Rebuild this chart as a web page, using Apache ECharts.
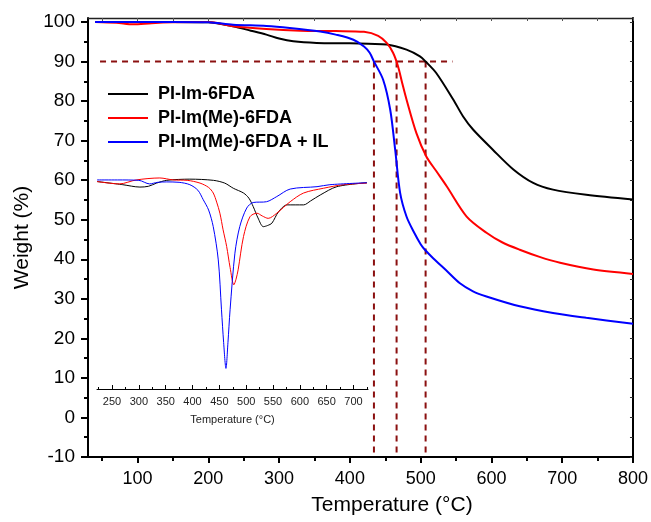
<!DOCTYPE html>
<html>
<head>
<meta charset="utf-8">
<script src="https://cdn.jsdelivr.net/npm/echarts@6/dist/echarts.min.js"></script>
<style>html,body{margin:0;padding:0;background:#fff}#c{width:651px;height:522px}</style>
</head>
<body>
<div id="c"></div>
<script>
// ---- data ----
const seriesNames = ['PI-Im-6FDA', 'PI-Im(Me)-6FDA', 'PI-Im(Me)-6FDA + IL'];

// TGA main curves: temperature (°C) and weight (%)
const tgaBlackT = [40,100,150,200,235,260,282,300,320,353,400,452,480,499,507,522,546,560,574,602,631,659,687,734,800];
const tgaBlackW = [100,100,100,99.9,98.9,97.8,96.8,95.8,95.1,94.7,94.6,94.3,93,91.3,90,87.1,80.4,76.1,72.8,67.7,62.7,59.3,57.6,56.3,55.1];

const tgaRedT = [40,70,94,120,150,200,235,282,330,380,420,440,452,461,468,474,480,494,508,522,537,565,593,615,640,668,697,744,800];
const tgaRedW = [100,99.8,99.4,99.7,99.9,100,98.9,98.2,97.8,97.7,97.5,96.5,94.7,92.2,88.8,84.5,80.4,71.9,66,62.3,58.4,50.8,46.7,44.3,42.4,40.6,39.1,37.4,36.3];

const tgaBlueT = [40,150,200,235,282,315,358,380,405,420,428,434,447,457,464,471,480,490,500,506,518,536,555,574,593,640,687,734,800];
const tgaBlueW = [100,100,99.9,99.3,99,98.5,97.6,96.8,95.5,93.8,92.2,90,85.4,77.8,67.7,56.8,50.8,47,43.8,42.4,40.2,37.2,34,31.9,30.6,28.1,26.4,25.2,23.7];

// DTG inset curves (arbitrary units)
const dtgBlackT = [222,270,302,318,333,352,395,439,460,476,495,505,513,522,532,540,548,560,576,607,620,638,669,725];
const dtgBlackV = [59.7,58.9,58.3,58.5,59.3,60,60.3,60,59.3,58,56.8,55.5,53.4,50.5,48.3,48.6,49.2,52,53.8,53.8,54.8,56.3,58.4,59.4];

const dtgRedT = [222,264,295,339,364,390,414,430,438.6,445,451,457,463.6,470,477,481,485,495,507,520,530,541,557,582,607,644,681,725];
const dtgRedV = [59.7,59.1,60.1,60.6,60.1,60,59.3,58.2,56.8,54.5,51.7,47.5,43.3,38,33.6,35,37.4,45.8,50.8,51.7,51,50.4,51.7,54.6,56.8,58,58.9,59.3];

const dtgBlueT = [222,260,300,320,335,352,375,395,410,420,430,438.6,448,454,458,462.3,466,470,479,488,501,513,538,557,582,632,656,725];
const dtgBlueV = [60.1,60.1,60,59.1,59.5,59.6,59.5,58.9,57.5,55.1,52.5,48.3,39.9,27.3,19,12.5,19,27.3,41.6,48.3,53,54.4,54.6,55.9,57.8,58.4,58.9,59.4];

// T10% guide lines
const level10 = 90;
const t10 = [434, 466, 507];
const guideStart = 47, guideEnd = 545, guideBottom = -10;

// tick values
const xTicks = [100,200,300,400,500,600,700,800];
const xMinor = [50,150,250,350,450,550,650,750];
const xTop = [50,100,150,200,250,300,350,400,450,500,550,600,650,700,750,800];
const yTicks = [-10,0,10,20,30,40,50,60,70,80,90,100];
const yMinor = [-5,5,15,25,35,45,55,65,75,85,95];
const yRight = [-10,-5,0,5,10,15,20,25,30,35,40,45,50,55,60,65,70,75,80,85,90,95,100];
const insetTicks = [250,300,350,400,450,500,550,600,650,700];
const insetMinor = [225,275,325,375,425,475,525,575,625,675,725];

// ---- chart ----
const FONT = 'Liberation Sans, Arial, sans-serif';
const zip = (a, b) => a.map((v, i) => [v, b[i]]);
const colors = ['#000000', '#ff0000', '#0000ff'];
const guideColor = '#8b1010';

const chart = echarts.init(document.getElementById('c'), null, {renderer: 'canvas'});

const hiddenAxis = {axisLine: {show: false, onZero: false}, axisLabel: {show: false}, splitLine: {show: false}};

const series = [];
// guide lines
series.push({
  type: 'line', xAxisIndex: 0, yAxisIndex: 0, symbol: 'none', silent: true, z: 1,
  data: [[guideStart, level10], [guideEnd, level10]],
  lineStyle: {color: guideColor, width: 2, type: [6, 5]}
});
t10.forEach(t => series.push({
  type: 'line', xAxisIndex: 0, yAxisIndex: 0, symbol: 'none', silent: true, z: 1,
  data: [[t, level10], [t, guideBottom]],
  lineStyle: {color: guideColor, width: 2, type: [6, 5]}
}));
// TGA
[[tgaBlackT, tgaBlackW], [tgaRedT, tgaRedW], [tgaBlueT, tgaBlueW]].forEach((d, i) => series.push({
  name: seriesNames[i], type: 'line', xAxisIndex: 0, yAxisIndex: 0, symbol: 'none', z: 3,
  smooth: 0.3,
  data: zip(d[0], d[1]),
  lineStyle: {color: colors[i], width: 2}, itemStyle: {color: colors[i]}
}));
// DTG inset
[[dtgBlackT, dtgBlackV], [dtgRedT, dtgRedV], [dtgBlueT, dtgBlueV]].forEach((d, i) => series.push({
  name: seriesNames[i] + ' DTG', type: 'line', xAxisIndex: 3, yAxisIndex: 3, symbol: 'none', z: 2,
  smooth: 0.3,
  data: zip(d[0], d[1]),
  lineStyle: {color: colors[i], width: 1}, itemStyle: {color: colors[i]}
}));

chart.setOption({
  backgroundColor: '#fff',
  animation: false,
  textStyle: {fontFamily: FONT},
  grid: [
    {left: 88, right: 18, top: 18, bottom: 65},
    {left: 97, right: 283, top: 18, bottom: 133}
  ],
  legend: {
    data: seriesNames, orient: 'vertical', left: 108, top: 84, padding: 0,
    icon: 'rect', itemWidth: 40, itemHeight: 2, itemGap: 4,
    textStyle: {fontFamily: FONT, fontSize: 18, fontWeight: 'bold', color: '#000', lineHeight: 20, padding: [0, 0, 0, 5]}
  },
  xAxis: [
    {type: 'value', gridIndex: 0, min: 30, max: 800, position: 'bottom',
     name: 'Temperature (°C)', nameLocation: 'middle', nameGap: 38,
     nameTextStyle: {fontFamily: FONT, fontSize: 21, color: '#000', padding: [0, 0, 0, 63]},
     axisLine: {show: true, onZero: false, lineStyle: {color: '#000', width: 2}},
     axisTick: {show: true, inside: false, length: 6, customValues: xTicks, lineStyle: {color: '#000', width: 2}},
     axisLabel: {customValues: xTicks, fontFamily: FONT, fontSize: 18, color: '#000', margin: 13},
     splitLine: {show: false}},
    {type: 'value', gridIndex: 0, min: 30, max: 800, position: 'bottom', ...hiddenAxis,
     axisTick: {show: true, inside: false, length: 4, customValues: xMinor, lineStyle: {color: '#000', width: 2}}},
    {type: 'value', gridIndex: 0, min: 30, max: 800, position: 'top',
     axisLine: {show: true, onZero: false, lineStyle: {color: '#222', width: 1.3}},
     axisTick: {show: true, inside: true, length: 3, customValues: xTop, lineStyle: {color: '#555', width: 1}},
     axisLabel: {show: false}, splitLine: {show: false}},
    {type: 'value', gridIndex: 1, min: 222, max: 727, position: 'bottom',
     name: 'Temperature (°C)', nameLocation: 'middle', nameGap: 25,
     nameTextStyle: {fontFamily: FONT, fontSize: 11, color: '#222'},
     axisLine: {show: true, onZero: false, lineStyle: {color: '#000', width: 1}},
     axisTick: {show: true, inside: true, length: 4, customValues: insetTicks, lineStyle: {color: '#000', width: 1}},
     axisLabel: {customValues: insetTicks, fontFamily: FONT, fontSize: 11, color: '#222', margin: 7},
     splitLine: {show: false}},
    {type: 'value', gridIndex: 1, min: 222, max: 727, position: 'bottom', ...hiddenAxis,
     axisTick: {show: true, inside: true, length: 2, customValues: insetMinor, lineStyle: {color: '#000', width: 1}}}
  ],
  yAxis: [
    {type: 'value', gridIndex: 0, min: -10, max: 101, position: 'left',
     name: 'Weight (%)', nameLocation: 'middle', nameGap: 55,
     nameTextStyle: {fontFamily: FONT, fontSize: 21, color: '#000'},
     axisLine: {show: true, onZero: false, lineStyle: {color: '#000', width: 2}},
     axisTick: {show: true, inside: false, length: 7, customValues: yTicks, lineStyle: {color: '#000', width: 2}},
     axisLabel: {customValues: yTicks, fontFamily: FONT, fontSize: 19, color: '#000', margin: 13},
     splitLine: {show: false}},
    {type: 'value', gridIndex: 0, min: -10, max: 101, position: 'left', ...hiddenAxis,
     axisTick: {show: true, inside: false, length: 4, customValues: yMinor, lineStyle: {color: '#000', width: 2}}},
    {type: 'value', gridIndex: 0, min: -10, max: 101, position: 'right',
     axisLine: {show: true, onZero: false, lineStyle: {color: '#000', width: 2}},
     axisTick: {show: true, inside: true, length: 3, customValues: yRight, lineStyle: {color: '#333', width: 1}},
     axisLabel: {show: false}, splitLine: {show: false}},
    {type: 'value', gridIndex: 1, min: 7.3, max: 101, show: false, splitLine: {show: false}}
  ],
  series: series
});
</script>
</body>
</html>
